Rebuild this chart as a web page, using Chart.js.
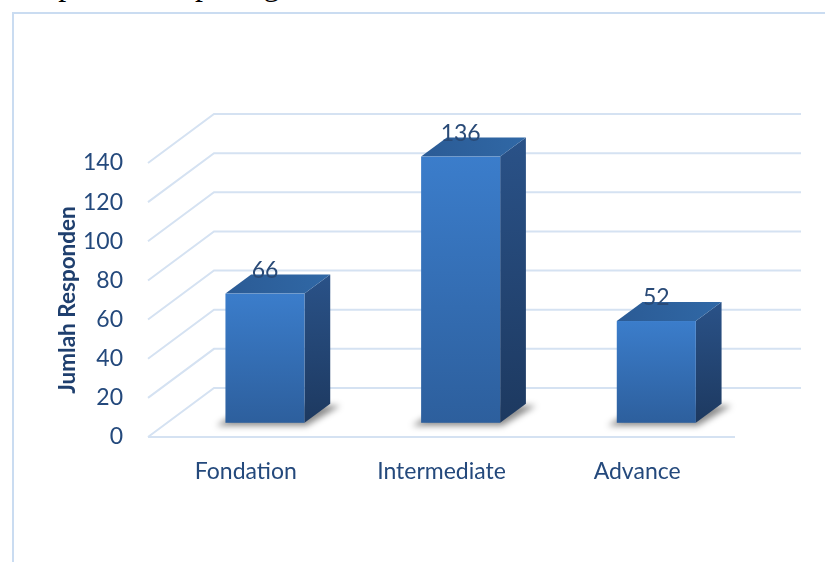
<!DOCTYPE html>
<html>
<head>
<meta charset="utf-8">
<title>Jumlah Responden</title>
<script src="https://cdn.jsdelivr.net/npm/chart.js@4.4.1/dist/chart.umd.min.js"></script>
<style>
  html, body { margin: 0; padding: 0; background: #fff; overflow: hidden; }
  #wrap { position: relative; width: 825px; height: 562px; }
  #lead {
    position: absolute; left: 28px; top: -32px;
    font: 32px "Liberation Serif", serif; line-height: 32px; color: #000;
    white-space: nowrap;
  }
  canvas { position: absolute; left: 0; top: 0; }
</style>
</head>
<body>
<div id="wrap">
  <div id="lead">dapat dilihat pada gambar 4.1</div>
  <canvas id="chart" width="825" height="562"></canvas>
</div>
<script>
// kategori dan jumlah responden
const categories = ['Fondation', 'Intermediate', 'Advance'];
const responden = [66, 136, 52];
const yTicks = [0, 20, 40, 60, 80, 100, 120, 140];

// kedalaman 3D (px) dan posisi balok di dalamnya
const DEPTH_X = 66;
const DEPTH_Y = 49;
const BAR_FRONT = 0.29;
const BAR_DEPTH = 0.39;

const TEXT_COLOR = '#24497c';
const GRID_COLOR = '#d5e2f2';

const frame3d = {
  id: 'frame3d',
  beforeDraw(chart) {
    const ctx = chart.ctx;
    ctx.save();
    // bingkai kotak grafik
    ctx.strokeStyle = '#cadcf1';
    ctx.lineWidth = 2;
    ctx.beginPath();
    ctx.moveTo(13, chart.height);
    ctx.lineTo(13, 13);
    ctx.lineTo(chart.width, 13);
    ctx.stroke();
    ctx.restore();
  },
  beforeDatasetsDraw(chart) {
    const ctx = chart.ctx;
    const area = chart.chartArea;
    const y = chart.scales.y;
    ctx.save();
    ctx.strokeStyle = GRID_COLOR;
    ctx.lineWidth = 2;
    yTicks.forEach(v => {
      const fy = y.getPixelForValue(v);
      ctx.beginPath();
      ctx.moveTo(area.left, fy);
      ctx.lineTo(area.left + DEPTH_X, fy - DEPTH_Y);
      ctx.lineTo(area.right + DEPTH_X, fy - DEPTH_Y);
      ctx.stroke();
    });
    // garis depan lantai
    const y0 = y.getPixelForValue(0);
    ctx.beginPath();
    ctx.moveTo(area.left, y0);
    ctx.lineTo(area.right, y0);
    ctx.stroke();
    ctx.restore();
  },
  afterDatasetsDraw(chart) {
    const ctx = chart.ctx;
    const meta = chart.getDatasetMeta(0);
    const ox = DEPTH_X * BAR_FRONT, oy = DEPTH_Y * BAR_FRONT;
    const bx = DEPTH_X * BAR_DEPTH, by = DEPTH_Y * BAR_DEPTH;

    meta.data.forEach((bar, i) => {
      const p = bar.getProps(['x', 'y', 'base', 'width'], true);
      const l = p.x - p.width / 2 + ox;
      const r = p.x + p.width / 2 + ox;
      const t = p.y - oy;
      const b = p.base - oy;

      ctx.save();
      // bayangan di lantai
      ctx.filter = 'blur(3px)';
      ctx.fillStyle = 'rgba(0,0,0,0.45)';
      ctx.beginPath();
      ctx.moveTo(l - 9, b + 3);
      ctx.lineTo(r + 2, b + 3);
      ctx.lineTo(r + bx + 10, b - by + 2);
      ctx.lineTo(l + bx, b - by);
      ctx.closePath();
      ctx.fill();
      ctx.filter = 'none';

      // sisi kanan
      const side = ctx.createLinearGradient(0, t - by, 0, b);
      side.addColorStop(0, '#2a5288');
      side.addColorStop(1, '#1d3960');
      ctx.fillStyle = side;
      ctx.beginPath();
      ctx.moveTo(r, t);
      ctx.lineTo(r + bx, t - by);
      ctx.lineTo(r + bx, b - by);
      ctx.lineTo(r, b);
      ctx.closePath();
      ctx.fill();

      // sisi atas
      const top = ctx.createLinearGradient(l, t, r + bx, t - by);
      top.addColorStop(0, '#2b5b95');
      top.addColorStop(1, '#3068a6');
      ctx.fillStyle = top;
      ctx.beginPath();
      ctx.moveTo(l, t);
      ctx.lineTo(r, t);
      ctx.lineTo(r + bx, t - by);
      ctx.lineTo(l + bx, t - by);
      ctx.closePath();
      ctx.fill();

      // sisi depan
      const front = ctx.createLinearGradient(0, t, 0, b);
      front.addColorStop(0, '#3b7dcb');
      front.addColorStop(1, '#2d5f9d');
      ctx.fillStyle = front;
      ctx.fillRect(l, t, r - l, b - t);

      // label nilai
      ctx.fillStyle = '#294a77';
      ctx.font = '23px Lato';
      ctx.textAlign = 'center';
      ctx.textBaseline = 'middle';
      ctx.fillText(String(responden[i]), (l + r) / 2, t - 23);
      ctx.restore();
    });
  }
};

const chart = new Chart(document.getElementById('chart'), {
  type: 'bar',
  data: {
    labels: categories,
    datasets: [{
      data: responden,
      backgroundColor: 'rgba(0,0,0,0)',
      borderWidth: 0,
      categoryPercentage: 1,
      barPercentage: 0.404
    }]
  },
  options: {
    responsive: false,
    animation: false,
    layout: { padding: { top: 163, right: 90, left: 0, bottom: 0 } },
    plugins: {
      legend: { display: false },
      tooltip: { enabled: false }
    },
    scales: {
      x: {
        grid: { display: false },
        border: { display: false },
        ticks: {
          color: TEXT_COLOR,
          font: { family: 'Lato', size: 23 },
          padding: 13
        },
        afterFit(scale) { scale.height = 125; }
      },
      y: {
        min: 0,
        max: 140,
        grid: { display: false },
        border: { display: false },
        ticks: {
          stepSize: 20,
          color: TEXT_COLOR,
          font: { family: 'Lato', size: 23 },
          padding: 17
        },
        title: {
          display: true,
          text: 'Jumlah Responden',
          color: '#1f3f6e',
          font: { family: 'Lato', size: 22.5, weight: 'bold' },
          padding: { top: 54, bottom: 0 }
        },
        afterFit(scale) { scale.width = 148; }
      }
    }
  },
  plugins: [frame3d]
});
</script>
</body>
</html>
